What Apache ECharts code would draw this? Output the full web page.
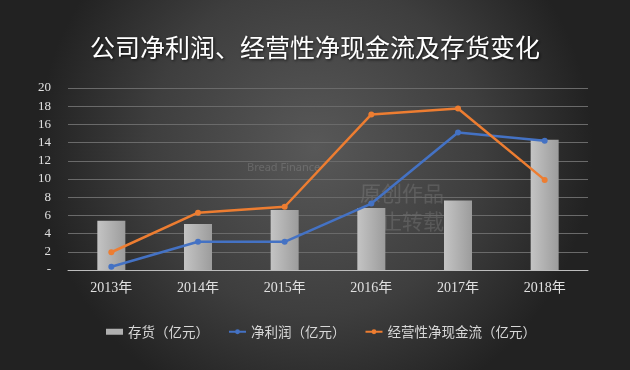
<!DOCTYPE html>
<html><head><meta charset="utf-8">
<script src="https://cdn.jsdelivr.net/npm/echarts@6/dist/echarts.min.js"></script>
<style>html,body{margin:0;padding:0;background:#333}#c{width:630px;height:370px}</style>
</head><body><div id="c"></div>
<script>
const categories = ['2013年','2014年','2015年','2016年','2017年','2018年'];
const inventory = [5.4, 5.05, 6.6, 6.8, 7.65, 14.3];
const netProfit = [0.35, 3.1, 3.1, 7.3, 15.1, 14.2];
const opCashFlow = [1.95, 6.3, 6.95, 17.1, 17.75, 9.9];
const seriesNames = ['存货（亿元）','净利润（亿元）','经营性净现金流（亿元）'];
const titleText = '公司净利润、经营性净现金流及存货变化';

const chart = echarts.init(document.getElementById('c'), null, {renderer:'canvas'});
const cjk = '"Noto Sans CJK SC", sans-serif';
chart.setOption({
  backgroundColor: {
    type:'radial', x:0.5, y:0.4, r:0.75,
    colorStops:[{offset:0,color:'#585858'},{offset:0.6,color:'#3e3e3e'},{offset:1,color:'#222222'}]
  },
  title: {
    text: titleText, left:'center', top:30,
    textStyle:{color:'#ffffff', fontSize:25, fontWeight:'normal', fontFamily:cjk,
      textShadowColor:'rgba(0,0,0,0.8)', textShadowBlur:3, textShadowOffsetX:1, textShadowOffsetY:1}
  },
  graphic: [
    {type:'text', left:247, top:162, z:0, style:{text:'Bread Finance', fill:'rgba(255,255,255,0.14)', font:'11px "Noto Sans", sans-serif'}},
    {type:'text', left:360, top:179, z:0, style:{text:'原创作品\n禁止转载', fill:'rgba(255,255,255,0.12)', font:'21px "Noto Sans CJK SC", sans-serif', lineHeight:28}}
  ],
  legend: {
    left: 101, top: 320, itemGap: 19, itemWidth: 17, itemHeight: 6,
    textStyle:{color:'#d8d8d8', fontSize:13.5, fontFamily:cjk},
    data:[
      {name:seriesNames[0], icon:'rect', itemStyle:{color:'#b0b0b0'}},
      {name:seriesNames[1]},
      {name:seriesNames[2]}
    ]
  },
  grid: {left:68, right:42, top:88, bottom:100},
  xAxis: {
    type:'category', data:categories,
    axisLine:{lineStyle:{color:'#bdbdbd', width:1}},
    axisTick:{show:false},
    axisLabel:{color:'#e0e0e0', fontSize:14, margin:11, fontFamily:'"Liberation Serif", "Noto Sans CJK SC", serif'}
  },
  yAxis: {
    type:'value', min:0, max:20, interval:2,
    axisLine:{show:false}, axisTick:{show:false},
    splitLine:{lineStyle:{color:'#6a6a6a', width:1}},
    axisLabel:{color:'#e0e0e0', fontSize:13, margin:17, fontFamily:'"Liberation Serif", serif',
      formatter: v => v === 0 ? '-' : String(v)}
  },
  series: [
    {name:seriesNames[0], type:'bar', data:inventory, barWidth:28,
      itemStyle:{color:{type:'linear',x:0,y:0,x2:1,y2:0,colorStops:[{offset:0,color:'#c4c4c4'},{offset:1,color:'#9c9c9c'}]}}},
    {name:seriesNames[1], type:'line', data:netProfit, symbol:'circle', symbolSize:6,
      lineStyle:{color:'#4472c4', width:2.5}, itemStyle:{color:'#4472c4'}},
    {name:seriesNames[2], type:'line', data:opCashFlow, symbol:'circle', symbolSize:6,
      lineStyle:{color:'#ed7d31', width:2.5}, itemStyle:{color:'#ed7d31'}}
  ]
});
</script></body></html>
